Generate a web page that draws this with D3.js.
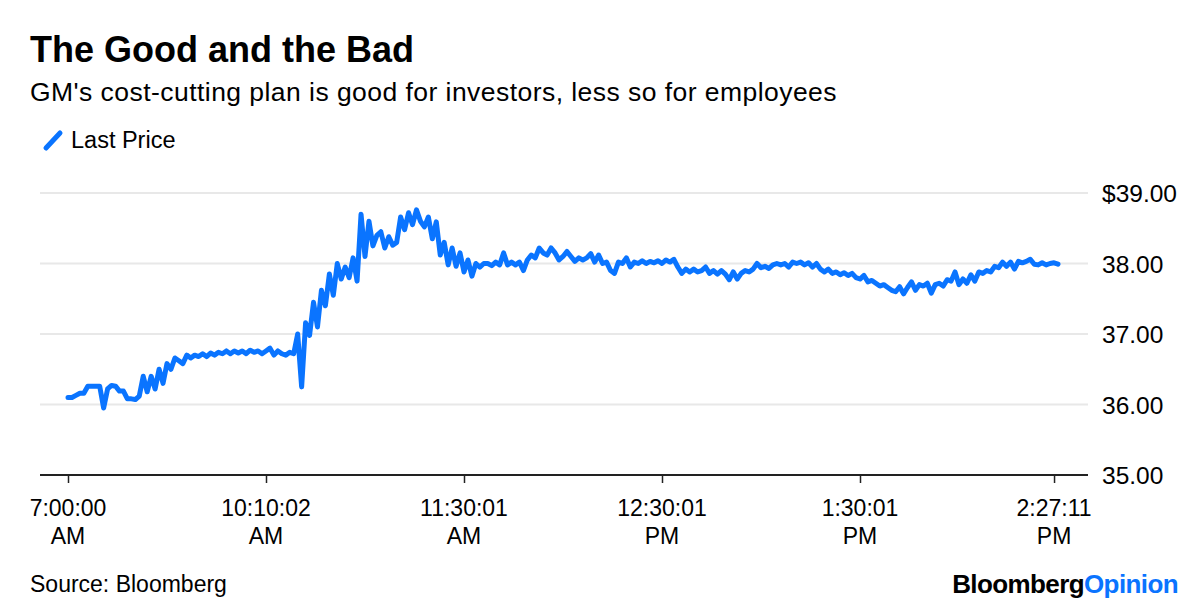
<!DOCTYPE html>
<html>
<head>
<meta charset="utf-8">
<script src="https://cdn.jsdelivr.net/npm/d3@7"></script>
<style>
  body { margin: 0; background: #fff; }
  text { font-family: "Liberation Sans", Arial, sans-serif; fill: #000; }
</style>
</head>
<body>
<svg id="chart" width="1200" height="612"></svg>
<script>
// Last price, one value per sample (trading time, not clock time)
var prices = [
  36.10, 36.10, 36.13, 36.16, 36.16, 36.26, 36.26, 36.26, 36.26, 35.95,
  36.22, 36.27, 36.26, 36.19, 36.19, 36.08, 36.08, 36.07, 36.12, 36.40,
  36.18, 36.40, 36.22, 36.50, 36.30, 36.58, 36.50, 36.66, 36.62, 36.58,
  36.70, 36.66, 36.70, 36.68, 36.72, 36.68, 36.73, 36.70, 36.74, 36.72,
  36.76, 36.72, 36.76, 36.73, 36.76, 36.72, 36.77, 36.74, 36.76, 36.72,
  36.76, 36.80, 36.70, 36.76, 36.72, 36.70, 36.74, 36.72, 37.00, 36.25,
  37.16, 36.98, 37.45, 37.10, 37.62, 37.40, 37.85, 37.55, 38.00, 37.78,
  37.95, 37.80, 38.08, 37.75, 38.70, 38.10, 38.60, 38.25, 38.40, 38.45,
  38.22, 38.38, 38.26, 38.30, 38.66, 38.48, 38.72, 38.55, 38.76, 38.60,
  38.52, 38.66, 38.35, 38.59, 38.12, 38.30, 37.98, 38.22, 37.96, 38.15,
  37.88, 38.05, 37.82, 38.00, 37.95, 38.00, 38.00, 37.97, 38.02, 37.98,
  38.15, 37.98, 38.02, 37.98, 38.02, 37.90, 38.05, 38.12, 38.08, 38.22,
  38.15, 38.12, 38.22, 38.15, 38.05, 38.10, 38.17, 38.10, 38.03, 38.08,
  38.05, 38.08, 38.14, 38.02, 38.12, 38.00, 38.02, 37.90, 37.86, 38.02,
  38.00, 38.08, 37.95, 38.02, 38.00, 38.04, 38.00, 38.03, 38.01, 38.04,
  38.00, 38.05, 38.02, 38.06, 37.95, 37.86, 37.92, 37.88, 37.92, 37.88,
  37.90, 37.95, 37.86, 37.90, 37.85, 37.90, 37.85, 37.77, 37.88, 37.78,
  37.86, 37.90, 37.88, 37.92, 38.00, 37.94, 37.96, 37.93, 37.98, 38.00,
  37.98, 38.00, 37.95, 38.02, 38.00, 38.02, 37.98, 38.01, 37.95, 38.00,
  37.92, 37.88, 37.92, 37.86, 37.88, 37.84, 37.87, 37.83, 37.86, 37.80,
  37.78, 37.83, 37.74, 37.76, 37.72, 37.68, 37.70, 37.66, 37.62, 37.60,
  37.67, 37.57, 37.66, 37.74, 37.62, 37.70, 37.68, 37.72, 37.58, 37.70,
  37.72, 37.68, 37.77, 37.75, 37.88, 37.70, 37.78, 37.72, 37.84, 37.75,
  37.88, 37.86, 37.90, 37.88, 37.96, 37.94, 38.02, 37.96, 38.02, 37.92,
  38.03, 38.01, 38.03, 38.06, 37.99, 37.98, 38.01, 37.98, 38.00, 38.01,
  37.99
];

// x tick positions (sample index) and their labels
var tickIndex = [0, 50, 100, 150, 200, 249];
var tickTime = ["7:00:00", "10:10:02", "11:30:01", "12:30:01", "1:30:01", "2:27:11"];
var tickHalf = ["AM", "AM", "AM", "PM", "PM", "PM"];

var yTicks = [35, 36, 37, 38, 39];

var blue = "#0a74ff";
var svg = d3.select("#chart");

var x = d3.scaleLinear().domain([0, prices.length - 1]).range([68, 1058]);
var y = d3.scaleLinear().domain([35, 39]).range([475, 193]);

// titles
svg.append("text").attr("x", 30).attr("y", 62)
  .style("font-size", "36px").style("font-weight", "bold")
  .text("The Good and the Bad");
svg.append("text").attr("x", 30).attr("y", 101)
  .style("font-size", "26.5px").style("letter-spacing", "0.45px")
  .text("GM's cost-cutting plan is good for investors, less so for employees");

// legend
svg.append("line").attr("x1", 46).attr("y1", 148).attr("x2", 60).attr("y2", 133)
  .attr("stroke", blue).attr("stroke-width", 5).attr("stroke-linecap", "round");
svg.append("text").attr("x", 71).attr("y", 148)
  .style("font-size", "23.5px").text("Last Price");

// grid lines
svg.append("g").selectAll("line")
  .data(yTicks.filter(function (d) { return d > 35; }))
  .enter().append("line")
  .attr("x1", 40).attr("x2", 1088)
  .attr("y1", function (d) { return y(d); })
  .attr("y2", function (d) { return y(d); })
  .attr("stroke", "#e8e8e8").attr("stroke-width", 2);

// y labels
svg.append("g").selectAll("text")
  .data(yTicks)
  .enter().append("text")
  .attr("x", 1102)
  .attr("y", function (d) { return y(d) + 9; })
  .style("font-size", "24.5px")
  .text(function (d) { return (d === 39 ? "$" : "") + d.toFixed(2); });

// x axis
var xAxis = d3.axisBottom(x)
  .tickValues(tickIndex)
  .tickSize(8)
  .tickFormat("");
var gx = svg.append("g").attr("transform", "translate(0," + y(35) + ")").call(xAxis);
gx.select(".domain").attr("d", "M40,0H1088").attr("stroke", "#222").attr("stroke-width", 2);
gx.selectAll(".tick line").attr("stroke", "#222").attr("stroke-width", 1.5);

var labels = svg.append("g").selectAll("text")
  .data(tickIndex)
  .enter().append("text")
  .attr("text-anchor", "middle")
  .style("font-size", "23px")
  .attr("transform", function (d) { return "translate(" + x(d) + ",516)"; });
labels.append("tspan").attr("x", 0).attr("y", 0).text(function (d, i) { return tickTime[i]; });
labels.append("tspan").attr("x", 0).attr("y", 28).text(function (d, i) { return tickHalf[i]; });

// price line
var line = d3.line()
  .x(function (d, i) { return x(i); })
  .y(function (d) { return y(d); });
svg.append("path").datum(prices)
  .attr("d", line)
  .attr("fill", "none")
  .attr("stroke", blue)
  .attr("stroke-width", 5)
  .attr("stroke-linejoin", "round")
  .attr("stroke-linecap", "round");

// footer
svg.append("text").attr("x", 30).attr("y", 592)
  .style("font-size", "23px").text("Source: Bloomberg");
var brand = svg.append("text").attr("x", 1178).attr("y", 593)
  .attr("text-anchor", "end")
  .style("font-size", "26px").style("font-weight", "bold")
  .style("letter-spacing", "-0.6px");
brand.append("tspan").text("Bloomberg");
brand.append("tspan").style("fill", blue).text("Opinion");
</script>
</body>
</html>
